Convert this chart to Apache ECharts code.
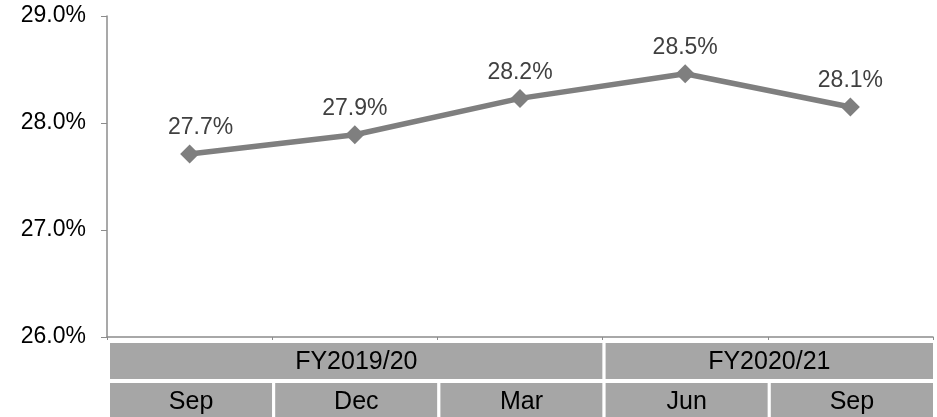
<!DOCTYPE html>
<html>
<head>
<meta charset="utf-8">
<script src="https://cdn.jsdelivr.net/npm/echarts@6/dist/echarts.min.js"></script>
<style>
  html, body { margin: 0; padding: 0; background: #fff; }
  #main { width: 937px; height: 417px; }
</style>
</head>
<body>
<div id="main"></div>
<script>
// data
var months = ['Sep', 'Dec', 'Mar', 'Jun', 'Sep'];
var values = [27.71, 27.89, 28.23, 28.46, 28.15];
var fyNames = ['FY2019/20', 'FY2020/21'];
var fySpans = [3, 2];   // how many months under each FY
var yTicks = [26, 27, 28, 29];

var chart = echarts.init(document.getElementById('main'));
var font = 'Liberation Sans, Arial, sans-serif';

var seriesData = values.map(function (v, i) {
    var item = { value: v };
    if (i === 0) item.label = { offset: [11, 0] };
    return item;
});

var option = {
    animation: false,
    grid: { left: 107, right: 4, top: 16, bottom: 80 },
    xAxis: {
        type: 'category',
        data: months.map(function (m, i) { return i + ''; }),
        axisLine: { lineStyle: { color: '#8c8c8c', width: 1.5 } },
        axisTick: { show: true, length: 3, lineStyle: { color: '#8c8c8c' } },
        axisLabel: { show: false },
        splitLine: { show: false }
    },
    yAxis: {
        type: 'value',
        min: yTicks[0],
        max: yTicks[yTicks.length - 1],
        interval: 1,
        axisLine: { show: true, lineStyle: { color: '#8c8c8c', width: 1.5 } },
        axisTick: { show: true, length: 6, lineStyle: { color: '#8c8c8c' } },
        splitLine: { show: false },
        axisLabel: {
            margin: 21,
            color: '#000',
            fontSize: 23,
            fontFamily: font,
            formatter: function (v) { return v.toFixed(1) + '%'; }
        }
    },
    series: [{
        type: 'line',
        data: seriesData,
        symbol: 'diamond',
        symbolSize: 19,
        lineStyle: { color: '#7f7f7f', width: 5.5 },
        itemStyle: { color: '#7f7f7f' },
        label: {
            show: true,
            position: 'top',
            distance: 5,
            color: '#404040',
            fontSize: 23,
            fontFamily: font,
            formatter: function (p) { return p.value.toFixed(1) + '%'; }
        }
    }]
};
chart.setOption(option);

// category table under the axis, cells placed from the axis scale
function drawTable() {
    var bounds = [];
    for (var i = 0; i < months.length; i++) {
        bounds.push(chart.convertToPixel({ xAxisIndex: 0 }, i + ''));
    }
    var step = months.length > 1 ? bounds[1] - bounds[0] : 0;
    var edges = [];
    for (var k = 0; k <= months.length; k++) edges.push(bounds[0] - step / 2 + k * step);

    var cells = [];
    function cell(x0, x1, y, h, text, dy) {
        cells.push({
            type: 'rect',
            shape: { x: x0 + 1.5, y: y, width: x1 - x0, height: h },
            style: { fill: '#a6a6a6', stroke: '#fff', lineWidth: 3 },
            z: 10
        });
        cells.push({
            type: 'text',
            x: (x0 + x1) / 2 + 1.5,
            y: y + h / 2 + dy,
            style: {
                text: text, fill: '#000', fontSize: 25, fontFamily: font,
                align: 'center', verticalAlign: 'middle'
            },
            z: 11
        });
    }
    var pos = 0;
    for (var f = 0; f < fyNames.length; f++) {
        cell(edges[pos], edges[pos + fySpans[f]], 341.5, 39, fyNames[f], 1);
        pos += fySpans[f];
    }
    for (var m = 0; m < months.length; m++) {
        cell(edges[m], edges[m + 1], 381.5, 40, months[m], 1);
    }
    chart.setOption({ graphic: { elements: cells } });
}
drawTable();

window.addEventListener('resize', function () {
    chart.resize();
    drawTable();
});
</script>
</body>
</html>
